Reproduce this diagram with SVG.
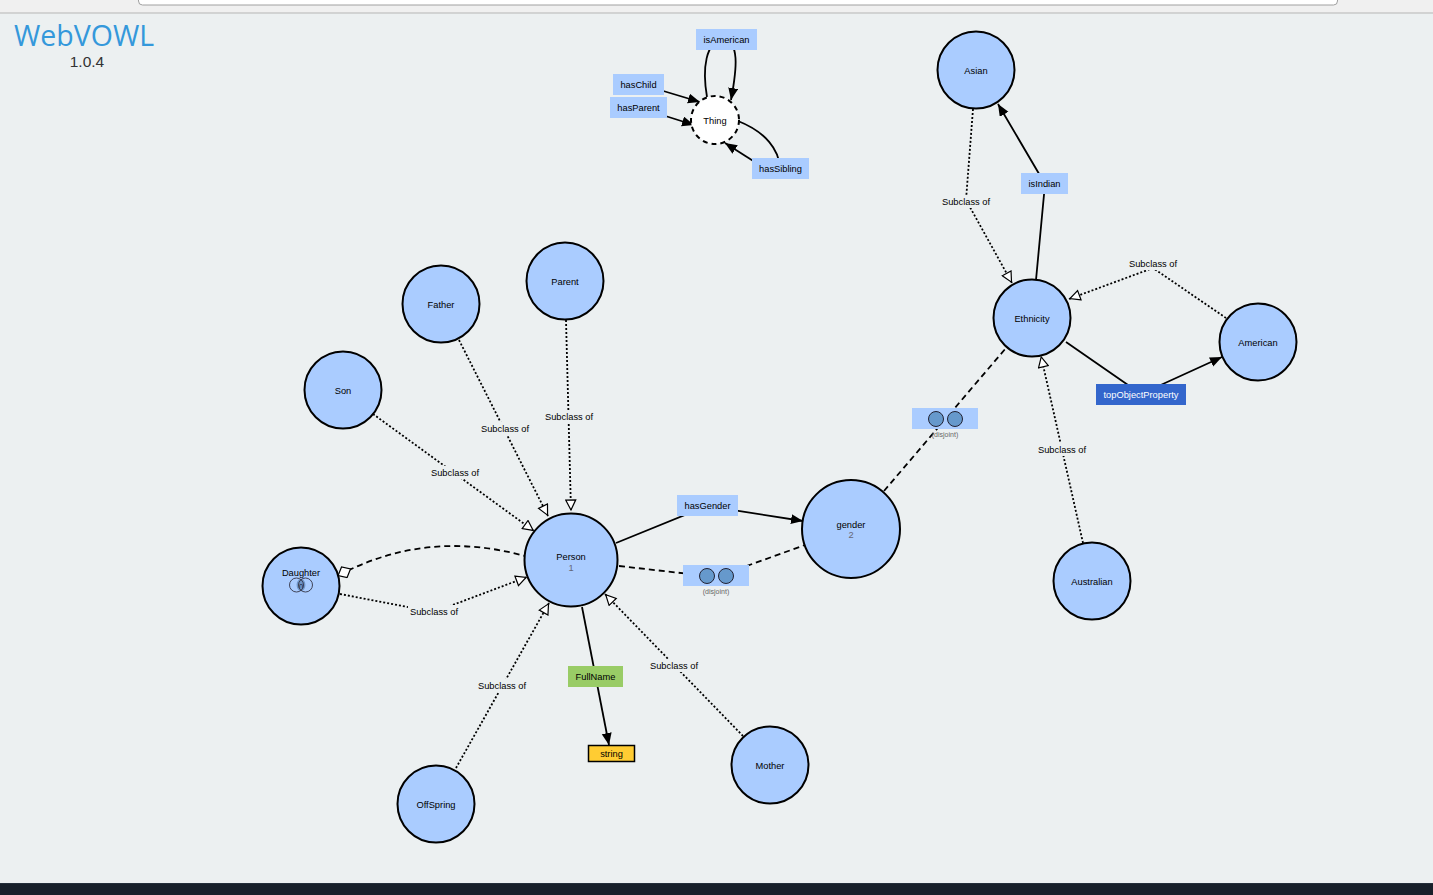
<svg xmlns="http://www.w3.org/2000/svg" width="1433" height="895" viewBox="0 0 1433 895">
<defs>
<style>
.cls{fill:#aaccff;stroke:#000;stroke-width:2}
.thing{fill:#fff;stroke:#000;stroke-width:2;stroke-dasharray:5,4}
.t{font-family:"Liberation Sans",Arial,sans-serif;font-size:9.3px;fill:#000;text-anchor:middle}
.num{font-family:"Liberation Sans",Arial,sans-serif;font-size:9.3px;fill:#667;text-anchor:middle}
.sm{font-family:"Liberation Sans",Arial,sans-serif;font-size:7px;fill:#666;text-anchor:middle}
.prop{fill:#aaccff}
.sub{fill:none;stroke:#000;stroke-width:1.8;stroke-dasharray:2,2;stroke-linejoin:round}
.dis{fill:none;stroke:#000;stroke-width:1.8;stroke-dasharray:6,4;stroke-linejoin:round}
.op{fill:none;stroke:#000;stroke-width:1.8;stroke-linejoin:round}
.lblbg{fill:#ecf0f1}
.dc{fill:#6699cc;stroke:#223;stroke-width:1}
</style>
<marker id="arr" markerUnits="userSpaceOnUse" markerWidth="14" markerHeight="12" refX="12" refY="5" orient="auto" viewBox="0 0 14 12">
<path d="M0,0 L12,5 L0,10 z" fill="#000"/>
</marker>
<marker id="hol" markerUnits="userSpaceOnUse" markerWidth="14" markerHeight="12" refX="11" refY="5" orient="auto" viewBox="-1 -1 14 12">
<path d="M0,0 L10,5 L0,10 z" fill="#fff" stroke="#000" stroke-width="1.2"/>
</marker>
<marker id="dia" markerUnits="userSpaceOnUse" markerWidth="18" markerHeight="14" refX="1" refY="6" orient="auto" viewBox="-1 -1 18 14">
<path d="M0,6 L7,0 L14,6 L7,12 z" fill="#fff" stroke="#000" stroke-width="1.2"/>
</marker>
</defs>

<rect x="0" y="0" width="1433" height="895" fill="#ecf0f1"/>
<rect x="0" y="0" width="1433" height="13" fill="#f0f0f0"/>
<line x1="0" y1="13" x2="1433" y2="13" stroke="#b5b5b5" stroke-width="1"/>
<rect x="138.5" y="-6" width="1199" height="11" rx="4" fill="#fff" stroke="#a0a0a0" stroke-width="1"/>
<rect x="0" y="883" width="1433" height="12" fill="#18202a"/>
<line x1="0" y1="883.5" x2="1433" y2="883.5" stroke="#252f3b" stroke-width="1"/>

<g id="logo">
<text x="14" y="46" font-family="'Open Sans',sans-serif" font-size="28.5" fill="#3498db">WebVOWL</text>
<text x="87" y="67" font-family="'Liberation Sans',Arial,sans-serif" font-size="15.5" fill="#333" text-anchor="middle">1.0.4</text>
</g>

<g id="connectors">
<!-- subclass links -->
<path class="sub" d="M566,320 L571,511" marker-end="url(#hol)"/>
<path class="sub" d="M459,340 L548,516" marker-end="url(#hol)"/>
<path class="sub" d="M373,414 L534,531" marker-end="url(#hol)"/>
<path class="sub" d="M340,594 L434,612 L527,577" marker-end="url(#hol)"/>
<path class="sub" d="M456,768 L549,603" marker-end="url(#hol)"/>
<path class="sub" d="M743,736 L605,594" marker-end="url(#hol)"/>
<path class="sub" d="M973,109 L966,200 L1012,283" marker-end="url(#hol)"/>
<path class="sub" d="M1226,318 L1153,268 L1069,299" marker-end="url(#hol)"/>
<path class="sub" d="M1083,543 L1041,356" marker-end="url(#hol)"/>
<!-- disjoint links -->
<path class="dis" d="M619,566 L716,577 L805,545"/>
<path class="dis" d="M884,491 L1006,348"/>
<!-- intersection link -->
<path class="dis" d="M339,575 Q427,529 525,556" marker-start="url(#dia)"/>
<!-- object / datatype properties -->
<path class="op" d="M616,543 L707,506 L803,521" marker-end="url(#arr)"/>
<path class="op" d="M582,607 L609,745" marker-end="url(#arr)"/>
<path class="op" d="M1066,342 L1141,394 L1222,357" marker-end="url(#arr)"/>
<path class="op" d="M1036,280 L1045,184 L998,104" marker-end="url(#arr)"/>
<!-- Thing loops -->
<path class="op" d="M707,97 C702,68 706,42 722,40 C740,40 737,68 731,100" marker-end="url(#arr)"/>
<path class="op" d="M738,121 C766,132 779,150 780,168"/>
<path class="op" d="M758,164 L725,143" marker-end="url(#arr)"/>
<path class="op" d="M640,84 L700,102" marker-end="url(#arr)"/>
<path class="op" d="M640,108 L694,125" marker-end="url(#arr)"/>
</g>

<g id="subclass-labels">
<rect class="lblbg" x="543" y="410" width="52" height="13"/><text class="t" x="569" y="420">Subclass of</text>
<rect class="lblbg" x="479" y="422" width="52" height="13"/><text class="t" x="505" y="432">Subclass of</text>
<rect class="lblbg" x="429" y="466" width="52" height="13"/><text class="t" x="455" y="476">Subclass of</text>
<rect class="lblbg" x="408" y="605" width="52" height="13"/><text class="t" x="434" y="615">Subclass of</text>
<rect class="lblbg" x="476" y="679" width="52" height="13"/><text class="t" x="502" y="689">Subclass of</text>
<rect class="lblbg" x="648" y="659" width="52" height="13"/><text class="t" x="674" y="669">Subclass of</text>
<rect class="lblbg" x="940" y="195" width="52" height="13"/><text class="t" x="966" y="205">Subclass of</text>
<rect class="lblbg" x="1127" y="257" width="52" height="13"/><text class="t" x="1153" y="267">Subclass of</text>
<rect class="lblbg" x="1036" y="443" width="52" height="13"/><text class="t" x="1062" y="453">Subclass of</text>
</g>

<g id="disjoint-1">
<rect class="prop" x="683" y="565" width="66" height="21"/>
<circle class="dc" cx="707" cy="576" r="7.5"/>
<circle class="dc" cx="726" cy="576" r="7.5"/>
<text class="sm" x="716" y="594">(disjoint)</text>
</g>
<g id="disjoint-2">
<rect class="prop" x="912" y="408" width="66" height="21"/>
<circle class="dc" cx="936" cy="419" r="7.5"/>
<circle class="dc" cx="955" cy="419" r="7.5"/>
<text class="sm" x="945" y="437">(disjoint)</text>
</g>

<g id="prop-isAmerican"><rect class="prop" x="696" y="29" width="61" height="21"/><text class="t" x="726.5" y="43">isAmerican</text></g>
<g id="prop-hasChild"><rect class="prop" x="613" y="74" width="51" height="21"/><text class="t" x="638.5" y="88">hasChild</text></g>
<g id="prop-hasParent"><rect class="prop" x="610" y="97" width="57" height="21"/><text class="t" x="638.5" y="111">hasParent</text></g>
<g id="prop-hasSibling"><rect class="prop" x="752" y="158" width="57" height="21"/><text class="t" x="780.5" y="172">hasSibling</text></g>
<g id="prop-isIndian"><rect class="prop" x="1021" y="173" width="47" height="21"/><text class="t" x="1044.5" y="187">isIndian</text></g>
<g id="prop-topObjectProperty"><rect x="1096" y="384" width="90" height="21" fill="#3366cc"/><text class="t" x="1141" y="398" style="fill:#fff">topObjectProperty</text></g>
<g id="prop-hasGender"><rect class="prop" x="677" y="495" width="61" height="21"/><text class="t" x="707.5" y="509">hasGender</text></g>
<g id="prop-FullName"><rect x="568" y="666" width="55" height="21" fill="#99cc66"/><text class="t" x="595.5" y="680">FullName</text></g>
<g id="datatype-string"><rect x="588.5" y="745.5" width="46" height="16" fill="#fc3" stroke="#000" stroke-width="1.5"/><text class="t" x="611.5" y="757">string</text></g>

<g id="node-Thing"><circle class="thing" cx="715" cy="120" r="24"/><text class="t" x="715" y="124">Thing</text></g>
<g id="node-Asian"><circle class="cls" cx="976" cy="70" r="38.5"/><text class="t" x="976" y="74">Asian</text></g>
<g id="node-Ethnicity"><circle class="cls" cx="1032" cy="318" r="38.5"/><text class="t" x="1032" y="322">Ethnicity</text></g>
<g id="node-American"><circle class="cls" cx="1258" cy="342" r="38.5"/><text class="t" x="1258" y="346">American</text></g>
<g id="node-Australian"><circle class="cls" cx="1092" cy="581" r="38.5"/><text class="t" x="1092" y="585">Australian</text></g>
<g id="node-gender"><circle class="cls" cx="851" cy="529" r="49"/><text class="t" x="851" y="528">gender</text><text class="num" x="851" y="538">2</text></g>
<g id="node-Person"><circle class="cls" cx="571" cy="560" r="46.5"/><text class="t" x="571" y="560">Person</text><text class="num" x="571" y="571">1</text></g>
<g id="node-Parent"><circle class="cls" cx="565" cy="281" r="38.5"/><text class="t" x="565" y="285">Parent</text></g>
<g id="node-Father"><circle class="cls" cx="441" cy="304" r="38.5"/><text class="t" x="441" y="308">Father</text></g>
<g id="node-Son"><circle class="cls" cx="343" cy="390" r="38.5"/><text class="t" x="343" y="394">Son</text></g>
<g id="node-Daughter">
<circle class="cls" cx="301" cy="586" r="38.5"/>
<text class="t" x="301" y="576">Daughter</text>
<path d="M301,578.5 A7,7 0 0 1 301,591.5 A7,7 0 0 1 301,578.5 z" fill="#6f95c8"/>
<circle cx="296.5" cy="585" r="7" fill="none" stroke="#334" stroke-width="0.9"/>
<circle cx="305.5" cy="585" r="7" fill="none" stroke="#334" stroke-width="0.9"/>
<text x="301" y="588" font-family="'DejaVu Sans',sans-serif" font-size="7" fill="#223" text-anchor="middle">∩</text>
</g>
<g id="node-OffSpring"><circle class="cls" cx="436" cy="804" r="38.5"/><text class="t" x="436" y="808">OffSpring</text></g>
<g id="node-Mother"><circle class="cls" cx="770" cy="765" r="38.5"/><text class="t" x="770" y="769">Mother</text></g>
</svg>
